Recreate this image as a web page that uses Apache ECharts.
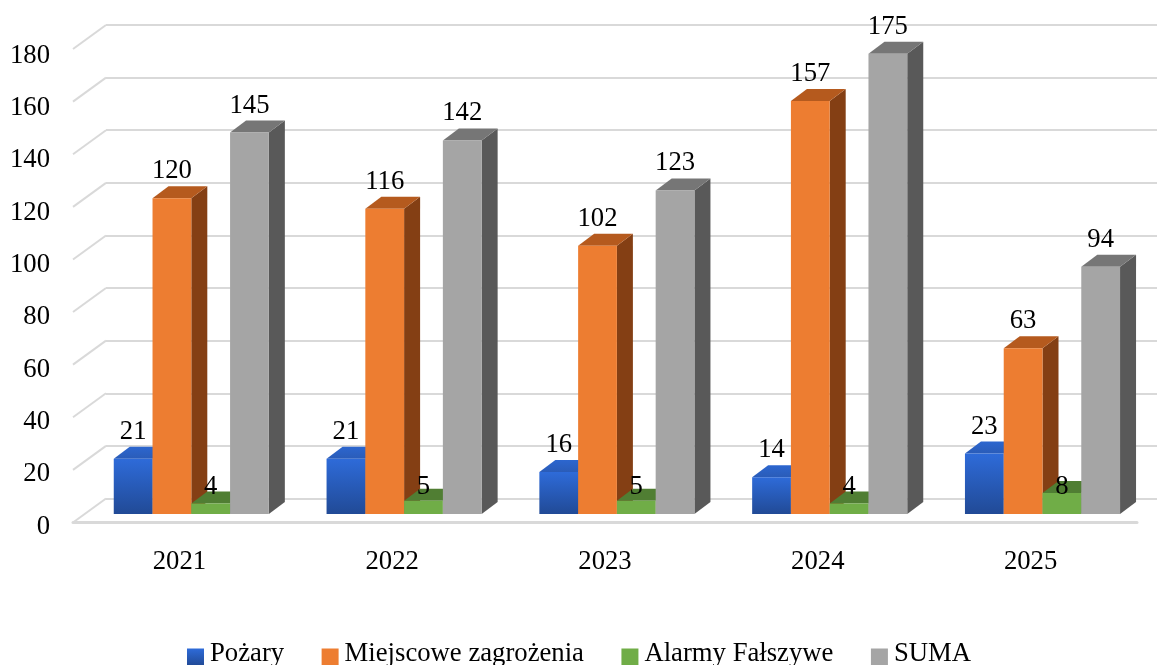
<!DOCTYPE html>
<html><head><meta charset="utf-8">
<style>html,body{margin:0;padding:0;background:#fff;overflow:hidden}#c{width:1157px;height:665px}</style>
<script src="https://cdn.jsdelivr.net/npm/echarts@6/dist/echarts.min.js"></script>
</head><body><div id="c"></div>
<script>
const years = ['2021','2022','2023','2024','2025'];
const pozary = [21,21,16,14,23];
const miejscowe = [120,116,102,157,63];
const alarmy = [4,5,5,4,8];
const suma = [145,142,123,175,94];
const ticks = [0,20,40,60,80,100,120,140,160,180];

const FONT = '"Liberation Serif","Times New Roman",serif';
const FS = 26.7;
const DEPTH_X = 16, DEPTH_Y = 12;      // depth of one bar
const PLANE_X = 11.9, PLANE_Y = 8.5;   // bars stand this far behind the front floor edge
const WALL_X = 33, WALL_Y = 24;        // distance from front plane to back wall

function grad(a,b){return {type:'linear',x:0,y:0,x2:0,y2:1,colorStops:[{offset:0,color:a},{offset:1,color:b}]};}
const looks = [
  {name:'Pożary',front:grad('#2e6bd9','#214a96'),side:'#1f3f7e',top:grad('#2c66cf','#2a5cb8'),vals:pozary,idx:0},
  {name:'Miejscowe zagrożenia',front:'#ed7d31',side:'#843f14',top:'#b55a1e',vals:miejscowe,idx:1},
  {name:'Alarmy Fałszywe',front:'#70ad47',side:'#436a2a',top:'#507e33',vals:alarmy,idx:2,fixedLabel:10.2},
  {name:'SUMA',front:'#a5a5a5',side:'#595959',top:'#767676',vals:suma,idx:3}
];

function barSeries(l){
  return {
    type:'custom', name:l.name, xAxisIndex:0, yAxisIndex:0, clip:false, z:5,
    itemStyle:{color:l.front},
    data:l.vals.map((v,i)=>[i,v]),
    renderItem(params,api){
      const i=api.value(0), v=api.value(1);
      const base=api.coord([i,0]), topP=api.coord([i,v]);
      const w=api.size([1,0])[0]*0.1822;
      const x0=base[0]+PLANE_X+(l.idx-2)*w;
      const x1=x0+w, yb=base[1]-PLANE_Y, yt=topP[1]-PLANE_Y;
      const labelY = l.fixedLabel!==undefined ? api.coord([i,l.fixedLabel])[1]-PLANE_Y : yt-27;
      return {type:'group',children:[
        {type:'polygon',shape:{points:[[x1,yb],[x1+DEPTH_X,yb-DEPTH_Y],[x1+DEPTH_X,yt-DEPTH_Y],[x1,yt]]},style:{fill:l.side}},
        {type:'polygon',shape:{points:[[x0,yt],[x1,yt],[x1+DEPTH_X,yt-DEPTH_Y],[x0+DEPTH_X,yt-DEPTH_Y]]},style:{fill:l.top}},
        {type:'rect',shape:{x:x0,y:yt,width:w,height:yb-yt},style:{fill:l.front}},
        {type:'text',z2:50,style:{text:String(v),x:x0+w/2,y:labelY,align:'center',verticalAlign:'middle',font:FS+'px '+FONT,fill:'#000'}}
      ]};
    }
  };
}

const chart = echarts.init(document.getElementById('c'),null,{renderer:'canvas'});
chart.setOption({
  animation:false,
  backgroundColor:'#fff',
  legend:{
    left:182, top:640, padding:[0,0,0,5], itemWidth:17, itemHeight:17, itemGap:37.5,
    icon:'rect',
    formatter:n=>'{t|'+n+'}',
    textStyle:{fontFamily:FONT,fontSize:FS,color:'#000',
      rich:{t:{fontFamily:FONT,fontSize:FS,color:'#000',padding:[0,0,7,1]}}},
    data:looks.map(l=>l.name)
  },
  grid:[
    {left:73,right:20,top:49,height:473.5},
    {left:106,right:-13,top:25,height:473.5},
    {left:73,right:20,top:55.5,height:471}
  ],
  xAxis:[
    {type:'category',gridIndex:0,data:years,boundaryGap:true,
     axisLine:{show:true,lineStyle:{color:'#d9d9d9',width:3}},axisTick:{show:false},
     axisLabel:{fontFamily:FONT,fontSize:FS,color:'#000',margin:26}},
    {type:'category',gridIndex:1,data:years,axisLine:{show:false},axisTick:{show:false},axisLabel:{show:false}},
    {type:'category',gridIndex:2,data:years,axisLine:{show:false},axisTick:{show:false},axisLabel:{show:false}}
  ],
  yAxis:[
    {type:'value',gridIndex:0,min:0,max:180,interval:20,
     axisLine:{show:false},axisTick:{show:false},splitLine:{show:false},axisLabel:{show:false}},
    {type:'value',gridIndex:1,min:0,max:180,interval:20,
     axisLine:{show:false},axisTick:{show:false},axisLabel:{show:false},
     splitLine:{show:true,lineStyle:{color:'#d9d9d9',width:2}}},
    {type:'value',gridIndex:2,min:0,max:180,interval:20,
     axisLine:{show:false},axisTick:{show:false},splitLine:{show:false},
     axisLabel:{fontFamily:FONT,fontSize:FS,color:'#000',margin:23}}
  ],
  series:[
    {type:'custom',name:'wall',xAxisIndex:0,yAxisIndex:0,clip:false,silent:true,z:1,
     data:ticks.map(t=>[0,t]),
     renderItem(params,api){
       const p=api.coord([0,api.value(1)]), x=params.coordSys.x;
       return {type:'line',shape:{x1:x,y1:p[1],x2:x+WALL_X,y2:p[1]-WALL_Y},style:{stroke:'#d9d9d9',lineWidth:2}};
     }},
    ...looks.map(barSeries)
  ]
});
</script></body></html>
